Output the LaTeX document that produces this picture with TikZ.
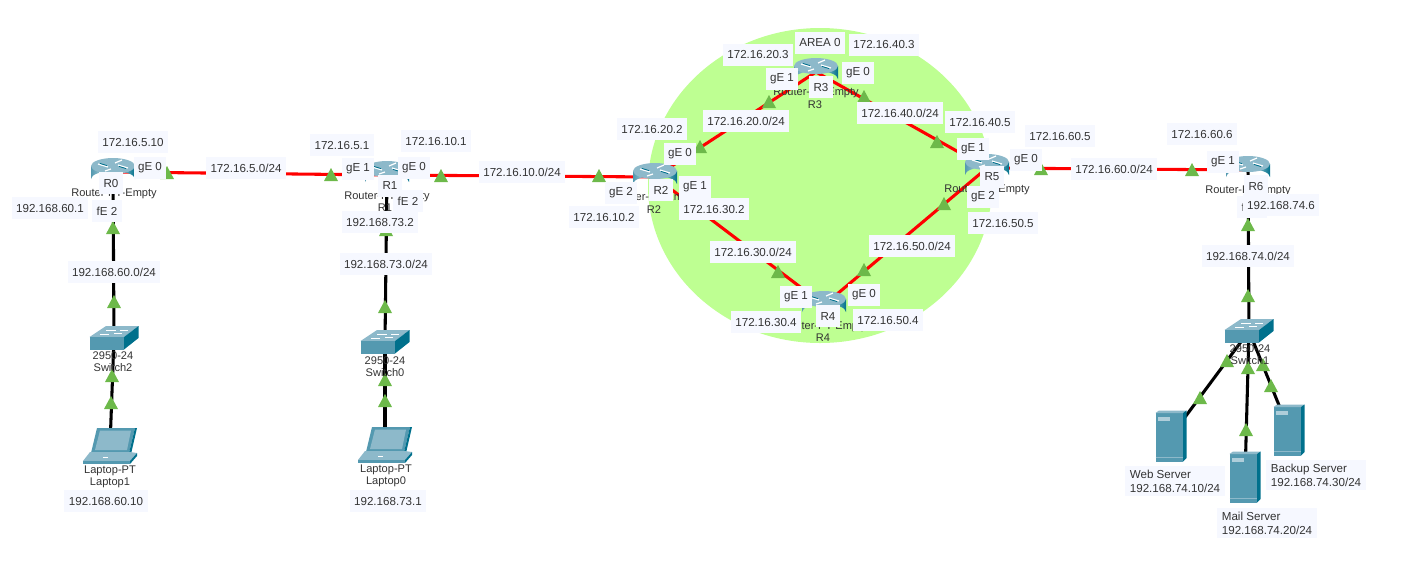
\documentclass[tikz,border=0pt]{standalone}
\usepackage{fontspec}
\setmainfont{Liberation Sans}
\definecolor{areagreen}{HTML}{BEFF92}
\definecolor{trigreen}{HTML}{6DB94A}
\definecolor{labbg}{HTML}{F6F8FF}
\definecolor{txt}{HTML}{333333}
\definecolor{ciscotop}{HTML}{8DB9CA}
\definecolor{ciscomid}{HTML}{5499B0}
\definecolor{ciscodark}{HTML}{00708C}
\definecolor{ciscolight}{HTML}{E4F0F3}
\tikzset{
  dev/.style={inner sep=0pt,minimum size=2pt},
  lab/.style={fill=labbg,text=txt,font=\fontsize{8.7pt}{10.5pt}\selectfont,inner xsep=3.4pt,inner ysep=0pt,minimum height=15.8pt},
  devcaption/.style={text=txt,font=\fontsize{8.3pt}{9pt}\selectfont,inner sep=0pt},
  redlink/.style={draw=red,line width=2.3pt},
  blacklink/.style={draw=black,line width=2.3pt},
  pics/tri/.style={code={\fill[trigreen] (-7,6)--(0,-7)--(7,6)--cycle;}},
  pics/router/.style={code={
    \path[left color=ciscomid,right color=ciscodark,middle color=ciscolight,shading angle=90]
      (-22,-6) -- (-22,7) arc[start angle=180,end angle=360,x radius=22,y radius=8] -- (22,-6) -- cycle;
    \fill[ciscotop] (0,-6) ellipse[x radius=22,y radius=8];
    \draw[white,line width=.9pt] (-15,-8)--(-5,-5) (15,-4)--(5,-7) (-8,-1)--(-2,-3) (9,-12)--(2,-9);
    \draw[ciscodark,line width=.6pt] (-13,-8.6)--(-6,-6.4) (13,-3.4)--(6,-5.6);
  }},
  pics/switch/.style={code={
    \fill[ciscotop] (-24.5,-1)--(-8,-12)--(24.5,-12)--(10,-1)--cycle;
    \fill[ciscomid] (-24.5,-1)--(10,-1)--(10,11.5)--(-24.5,11.5)--cycle;
    \fill[ciscodark] (10,-1)--(24.5,-12)--(24.5,0)--(10,11.5)--cycle;
    \draw[white,line width=.6pt] (-8,-8)--(2,-8) (6,-8)--(14,-8) (-14,-3.5)--(-5,-3.5) (0,-5)--(8,-5);
  }},
  pics/laptop/.style={code={
    \fill[ciscomid] (-13,-18)--(25,-18)--(19,7)--(-19,7)--cycle;
    \fill[ciscotop] (-10,-15.5)--(21,-15.5)--(17,4)--(-15,4)--cycle;
    \fill[ciscodark] (25,-18)--(27,-18)--(21,8)--(19,7)--cycle;
    \fill[ciscotop] (-20,6)--(20,6)--(27,7)--(20,15)--(-27,15)--cycle;
    \fill[ciscomid] (-27,15)--(20,15)--(20,18)--(-27,18)--cycle;
    \fill[ciscodark] (20,15)--(27,7)--(27,10)--(20,18)--cycle;
    \draw[white,line width=.4pt] (-7,11)--(-2,11);
  }},
  pics/server/.style={code={
    \fill[ciscomid] (-15.5,-23)--(12,-23)--(12,25.5)--(-15.5,25.5)--cycle;
    \fill[ciscotop] (-15.5,-23)--(-12,-25.5)--(15.5,-25.5)--(12,-23)--cycle;
    \fill[ciscodark] (12,-23)--(15.5,-25.5)--(15.5,22)--(12,25.5)--cycle;
    \fill[ciscotop!70!white] (-13.5,-19)--(-1,-19)--(-1,-15)--(-13.5,-15)--cycle;
    \draw[ciscotop,line width=.4pt] (-15.5,21.5)--(12,21.5);
  }},
}
\begin{document}
\begin{tikzpicture}[x=0.75pt,y=-0.75pt]
\useasboundingbox (0,0) rectangle (1423,569);
% OSPF area
\fill[areagreen] (820,185.5) ellipse[x radius=172,y radius=157.5];
% device anchors
\foreach \n/\x/\y in {r0/113/172,r1/387/175,r2/655/177,r3/816/72,r4/824/305,r5/987/168,r6/1248/170,
  sw2/114/338,sw0/385/342,sw1/1249/331,pc1/110/446,pc0/385/445,web/1171/436,mail/1245/477,backup/1289/430}
  \node[dev] (\n) at (\x,\y) {};
% connectors
\draw[redlink] (r0.center)--(r1.center);
\draw[redlink] (r1.center)--(r2.center);
\draw[redlink] (r2.center)--(r3.center);
\draw[redlink] (r3.center)--(r5.center);
\draw[redlink] (r2.center)--(r4.center);
\draw[redlink] (r4.center)--(r5.center);
\draw[redlink] (r5.center)--(r6.center);
\draw[blacklink] (r0.center)--(sw2.center);
\draw[blacklink] (sw2.center)--(pc1.center);
\draw[blacklink] (r1.center)--(sw0.center);
\draw[blacklink] (sw0.center)--(pc0.center);
\draw[blacklink] (r6.center)--(sw1.center);
\draw[blacklink] (sw1.center)--(web.center);
\draw[blacklink] (sw1.center)--(mail.center);
\draw[blacklink] (sw1.center)--(backup.center);
% icons
\foreach \n in {r0,r1,r2,r3,r4,r5,r6} \pic at (\n) {router};
\foreach \n in {sw2,sw0,sw1} \pic at (\n) {switch};
\foreach \n in {pc1,pc0} \pic at (\n) {laptop};
\foreach \n in {web,mail,backup} \pic at (\n) {server};
% link lights
\foreach \x/\y in {167/173,331/175,441/176,599/176,700/147,769/102,864/97,937/142,1041/169,1192/170,
  778/272,864/270,944/204,113/228,114/302,112/376,111/403,386/230,385/307,385/380,385/401,
  1248/225,1248/296,1227/361,1248/368,1263/365,1200/398,1246/430,1271/386}
  \pic at (\x,\y) {tri};
% device captions
\foreach \x/\y/\t [count=\i] in {
  114/194/{Router-PT-Empty},387/197/{Router-PT-Empty},655/198/{Router-PT-Empty},816/93/{Router-PT-Empty},
  824/327/{Router-PT-Empty},987/190/{Router-PT-Empty},1248/191/{Router-PT-Empty},
  113/206/{R0},385/208/{R1},654/210/{R2},815/105/{R3},823/338/{R4},987/202/{R5},1248/203/{R6},
  113/356/{2950-24},113/368/{Switch2},385/361/{2950-24},385/373/{Switch0},1250/349/{2950-24},1250/361/{Switch1},
  110/471/{Laptop-PT},110/483/{Laptop1},386/470/{Laptop-PT},386/482/{Laptop0}}
  \node[devcaption] (cap\i) at (\x,\y) {\t};
% address and interface labels
\foreach \x/\y/\t [count=\i] in {
  133/142/{172.16.5.10},150/168/{gE 0},246/168/{172.16.5.0/24},342/145/{172.16.5.1},358/169/{gE 1},414/168/{gE 0},
  111/183/{R0},390/186/{R1},107/211/{fE 2},408/201/{fE 2},380/222/{192.168.73.2},50/208/{192.168.60.1},
  436/141/{172.16.10.1},522/172/{172.16.10.0/24},758/55/{172.16.20.3},820/43/{AREA 0},782/79/{gE 1},821/87/{R3},
  746/121/{172.16.20.0/24},652/129/{172.16.20.2},680/154/{gE 0},621/193/{gE 2},661/190/{R2},695/187/{gE 1},
  714/209/{172.16.30.2},604/217/{172.16.10.2},884/45/{172.16.40.3},858/73/{gE 0},900/113/{172.16.40.0/24},
  980/122/{172.16.40.5},973/149/{gE 1},1026/160/{gE 0},992/177/{R5},983/197/{gE 2},1003/223/{172.16.50.5},
  912/246/{172.16.50.0/24},753/252/{172.16.30.0/24},796/297/{gE 1},864/295/{gE 0},828/316/{R4},
  766/322/{172.16.30.4},888/320/{172.16.50.4},1060/136/{172.16.60.5},1114/169/{172.16.60.0/24},
  1202/134/{172.16.60.6},1223/162/{gE 1},1256/186/{R6},1252/207/{fE 0},1281/205/{192.168.74.6},
  1248/256/{192.168.74.0/24},114/272/{192.168.60.0/24},386/264/{192.168.73.0/24},
  106/501/{192.168.60.10},388/501/{192.168.73.1}}
  \node[lab] (lab\i) at (\x,\y) {\t};
\node[lab,align=left,inner ysep=3pt] (webl) at (1175,481) {Web Server\\192.168.74.10/24};
\node[lab,align=left,inner ysep=3pt] (maill) at (1267,523) {Mail Server\\192.168.74.20/24};
\node[lab,align=left,inner ysep=3pt] (backupl) at (1316,475) {Backup Server\\192.168.74.30/24};
\end{tikzpicture}
\end{document}
